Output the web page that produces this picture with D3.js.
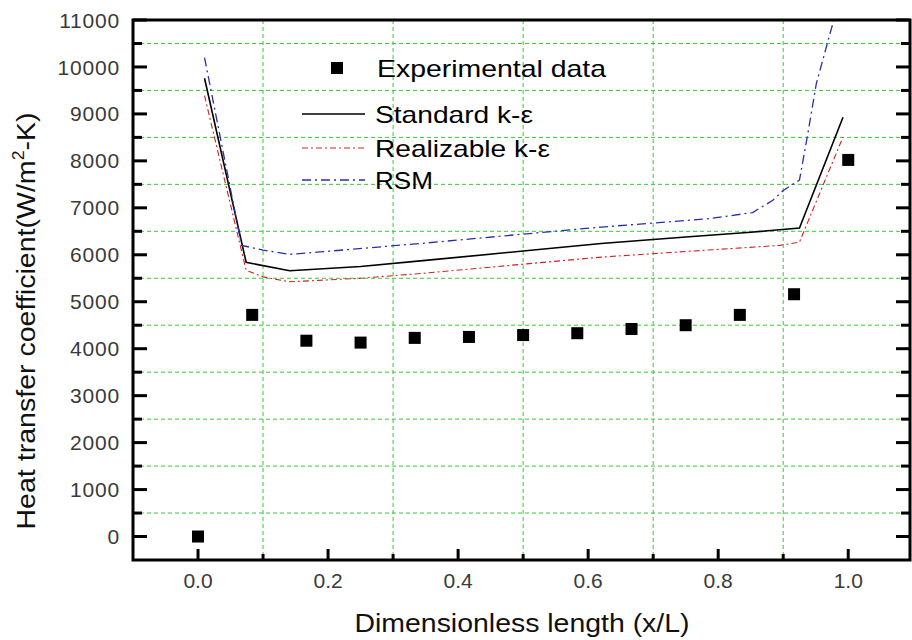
<!DOCTYPE html>
<html>
<head>
<meta charset="utf-8">
<script src="https://cdn.jsdelivr.net/npm/d3@7"></script>
<style>
  html, body { margin: 0; padding: 0; background: #fff; }
  svg { display: block; font-family: "Liberation Sans", Arial, sans-serif; }
</style>
</head>
<body>
<svg id="chart" width="912" height="640"></svg>
<script>
// Experimental measurements
const expX = [0.0, 0.0833, 0.1667, 0.25, 0.3333, 0.4167, 0.5, 0.5833, 0.6667, 0.75, 0.8333, 0.9167, 1.0];
const expY = [0, 4720, 4170, 4130, 4230, 4250, 4290, 4330, 4420, 4500, 4720, 5160, 8020];

// Standard k-epsilon model
const stdX = [0.01, 0.074, 0.141, 0.25, 0.35, 0.5, 0.62, 0.75, 0.85, 0.925, 0.992];
const stdY = [9760, 5840, 5660, 5750, 5880, 6080, 6240, 6380, 6480, 6570, 8930];

// Realizable k-epsilon model
const realX = [0.01, 0.074, 0.1, 0.141, 0.25, 0.35, 0.5, 0.62, 0.75, 0.895, 0.925, 0.992];
const realY = [9390, 5670, 5530, 5425, 5500, 5610, 5800, 5950, 6070, 6200, 6270, 8510];

// Reynolds stress model
const rsmX = [0.01, 0.067, 0.1, 0.141, 0.187, 0.35, 0.5, 0.62, 0.787, 0.853, 0.884, 0.9, 0.925, 0.938, 0.951, 0.972, 0.979];
const rsmY = [10200, 6200, 6100, 6010, 6060, 6250, 6440, 6590, 6770, 6900, 7160, 7370, 7590, 8590, 9650, 10710, 11060];

const xTicks = [0.0, 0.2, 0.4, 0.6, 0.8, 1.0];
const xMinor = [0.1, 0.3, 0.5, 0.7, 0.9];
const yTicks = [0, 1000, 2000, 3000, 4000, 5000, 6000, 7000, 8000, 9000, 10000, 11000];
const yMinor = [500, 1500, 2500, 3500, 4500, 5500, 6500, 7500, 8500, 9500, 10500];

const legendItems = [
  { label: "Standard k-ε", color: "#000000", dash: null, width: 1.6, len: 158 },
  { label: "Realizable k-ε", color: "#d42020", dash: "6,3,2,3", width: 1.1, len: 175 },
  { label: "RSM", color: "#2a2fa8", dash: "9,4,2,4", width: 1.3, len: 58 }
];

const svg = d3.select("#chart");
const L = 133, R = 910, T = 20, B = 560;

const x = d3.scaleLinear().domain([-0.1, 1.095]).range([L, R]);
const y = d3.scaleLinear().domain([-500, 11000]).range([B, T]);

svg.append("defs").append("clipPath").attr("id", "plotClip")
  .append("rect").attr("x", L).attr("y", T).attr("width", R - L).attr("height", B - T);

// dashed green grid at the half-steps
const grid = svg.append("g").attr("stroke", "#33cc33").attr("stroke-width", 1)
  .attr("stroke-dasharray", "4,3");
grid.selectAll("line.v").data(xMinor).join("line").attr("class", "v")
  .attr("x1", d => x(d)).attr("x2", d => x(d)).attr("y1", T).attr("y2", B);
grid.selectAll("line.h").data(yMinor).join("line").attr("class", "h")
  .attr("x1", L).attr("x2", R).attr("y1", d => y(d)).attr("y2", d => y(d));

// model curves
const plot = svg.append("g").attr("clip-path", "url(#plotClip)");
const line = d3.line().x(d => x(d[0])).y(d => y(d[1]));
const series = [
  { xs: stdX, ys: stdY, style: legendItems[0] },
  { xs: realX, ys: realY, style: legendItems[1] },
  { xs: rsmX, ys: rsmY, style: legendItems[2] }
];
series.forEach(s => {
  plot.append("path").datum(s.xs.map((v, i) => [v, s.ys[i]]))
    .attr("d", line).attr("fill", "none")
    .attr("stroke", s.style.color).attr("stroke-width", s.style.width)
    .attr("stroke-dasharray", s.style.dash);
});

// experimental markers
const sq = 12;
plot.selectAll("rect.exp").data(expX.map((v, i) => [v, expY[i]])).join("rect").attr("class", "exp")
  .attr("x", d => x(d[0]) - sq / 2).attr("y", d => y(d[1]) - sq / 2)
  .attr("width", sq).attr("height", sq).attr("fill", "#000");

// frame
svg.append("rect").attr("x", L).attr("y", T).attr("width", R - L).attr("height", B - T)
  .attr("fill", "none").attr("stroke", "#000").attr("stroke-width", 3);

// inward tick marks on bottom, left and right
const ticks = svg.append("g").attr("stroke", "#000").attr("stroke-width", 3);
ticks.selectAll("line.xt").data(xTicks).join("line").attr("class", "xt")
  .attr("x1", d => x(d)).attr("x2", d => x(d)).attr("y1", B).attr("y2", B - 11);
ticks.selectAll("line.xm").data(xMinor).join("line").attr("class", "xm")
  .attr("x1", d => x(d)).attr("x2", d => x(d)).attr("y1", B).attr("y2", B - 6);
ticks.selectAll("line.yl").data(yTicks).join("line").attr("class", "yl")
  .attr("x1", L).attr("x2", L + 14).attr("y1", d => y(d)).attr("y2", d => y(d));
ticks.selectAll("line.ylm").data(yMinor).join("line").attr("class", "ylm")
  .attr("x1", L).attr("x2", L + 9).attr("y1", d => y(d)).attr("y2", d => y(d));
ticks.selectAll("line.yr").data(yTicks).join("line").attr("class", "yr")
  .attr("x1", R).attr("x2", R - 14).attr("y1", d => y(d)).attr("y2", d => y(d));
ticks.selectAll("line.yrm").data(yMinor).join("line").attr("class", "yrm")
  .attr("x1", R).attr("x2", R - 9).attr("y1", d => y(d)).attr("y2", d => y(d));

// tick labels
svg.append("g").selectAll("text").data(yTicks).join("text")
  .attr("x", L - 13).attr("y", d => y(d)).attr("dy", "0.36em")
  .attr("text-anchor", "end").attr("font-size", 21).attr("letter-spacing", 0.8).attr("fill", "#3a3a3a")
  .text(d => d);
svg.append("g").selectAll("text").data(xTicks).join("text")
  .attr("x", d => x(d)).attr("y", 588)
  .attr("text-anchor", "middle").attr("font-size", 21).attr("fill", "#3a3a3a")
  .text(d => d.toFixed(1));

// axis titles
svg.append("text").attr("x", 522).attr("y", 632)
  .attr("text-anchor", "middle").attr("font-size", 26).attr("fill", "#111")
  .attr("textLength", 335).attr("lengthAdjust", "spacingAndGlyphs")
  .text("Dimensionless length (x/L)");
const yt = svg.append("text").attr("transform", "translate(35,321) rotate(-90)")
  .attr("text-anchor", "middle").attr("font-size", 26).attr("fill", "#111")
  .attr("textLength", 417).attr("lengthAdjust", "spacingAndGlyphs");
yt.append("tspan").text("Heat transfer coefficient(W/m");
yt.append("tspan").attr("font-size", 16).attr("dy", -11).text("2");
yt.append("tspan").attr("dy", 11).text("-K)");

// legend
const lg = svg.append("g");
lg.append("rect").attr("x", 337 - sq / 2).attr("y", 68 - sq / 2).attr("width", sq).attr("height", sq).attr("fill", "#000");
lg.append("text").attr("x", 377).attr("y", 68).attr("dy", "0.36em").attr("font-size", 24).attr("fill", "#000")
  .attr("textLength", 229).attr("lengthAdjust", "spacingAndGlyphs")
  .text("Experimental data");
const ly = [114, 148, 180];
legendItems.forEach((it, i) => {
  lg.append("line").attr("x1", 302).attr("x2", 365).attr("y1", ly[i]).attr("y2", ly[i])
    .attr("stroke", it.color).attr("stroke-width", it.width).attr("stroke-dasharray", it.dash);
  lg.append("text").attr("x", 375).attr("y", ly[i]).attr("dy", "0.36em").attr("font-size", 24).attr("fill", "#000")
    .attr("textLength", it.len).attr("lengthAdjust", "spacingAndGlyphs")
    .text(it.label);
});
</script>
</body>
</html>
